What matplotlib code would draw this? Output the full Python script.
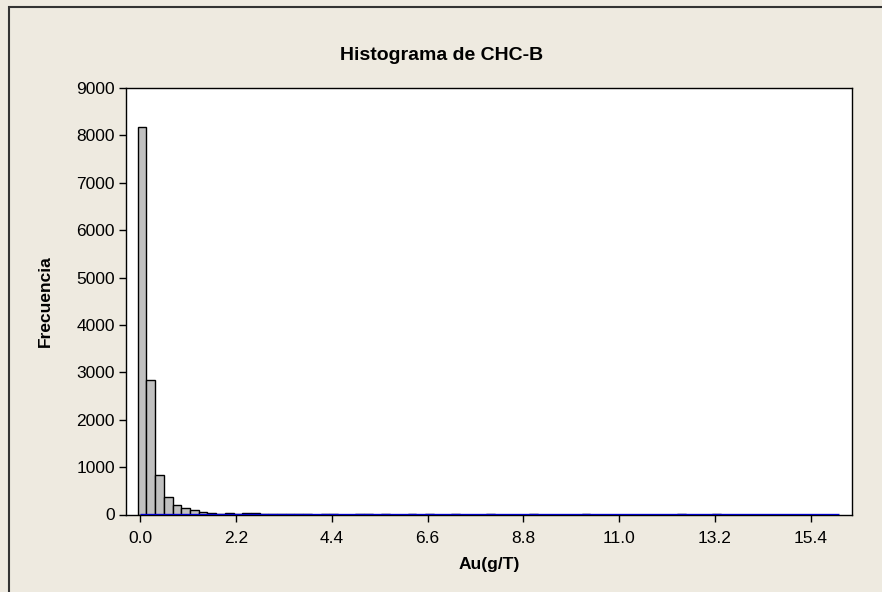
import matplotlib
matplotlib.use("Agg")
import matplotlib.pyplot as plt
from matplotlib.patches import Rectangle

# ---- data ----
bin_start = -0.06          # left edge of first bin (g/T)
bin_width = 0.2
counts = [8180, 2840, 840, 360, 205, 135, 92, 57, 30, 15, 28, 10, 28, 28,
          2, 1, 2, 1, 1, 1, 0, 1, 1, 0, 0, 1, 1, 0, 1, 0, 0, 1, 0, 1, 0, 0,
          1, 0, 0, 0, 1, 0, 0, 0, 0, 1, 0, 0, 0, 0, 0, 1, 0, 0, 0, 0, 0, 0,
          0, 0, 0, 0, 1, 0, 0, 0, 1]
data_min = 0.0
data_max = 16.05
xtick_values = [0.0, 2.2, 4.4, 6.6, 8.8, 11.0, 13.2, 15.4]
xtick_labels = ["0.0", "2.2", "4.4", "6.6", "8.8", "11.0", "13.2", "15.4"]
ytick_values = [0, 1000, 2000, 3000, 4000, 5000, 6000, 7000, 8000, 9000]

title = "Histograma de CHC-B"
xlabel = "Au(g/T)"
ylabel = "Frecuencia"

plt.rcParams['font.family'] = ['Liberation Sans', 'DejaVu Sans']

bg = "#EEEAE0"
fig = plt.figure(figsize=(8.82, 5.92), dpi=100, facecolor=bg)
ax = fig.add_axes([126/882, 1 - 514.5/592, (852 - 126)/882, (514.5 - 88)/592])
ax.set_facecolor("white")

lefts = [bin_start + i * bin_width for i in range(len(counts))]
ax.bar(lefts, counts, width=bin_width, align='edge', color="#C0C0C0",
       edgecolor="black", linewidth=1.0, zorder=2)
ax.plot([data_min, data_max], [0, 0], color="#0000CC", linewidth=2.4, zorder=3,
        solid_capstyle='butt')

ax.set_xlim(-0.33, 16.35)
ax.set_ylim(0, 9000)
ax.set_xticks(xtick_values)
ax.set_xticklabels(xtick_labels)
ax.set_yticks(ytick_values)
ax.tick_params(axis='both', direction='out', length=5, width=1, colors='black',
               labelsize=12.5)
ax.tick_params(axis='x', pad=7)
ax.tick_params(axis='y', pad=3)
for s in ax.spines.values():
    s.set_linewidth(1.0)
    s.set_color("black")

ax.set_xlabel(xlabel, fontsize=12.5, fontweight='bold', labelpad=8)
ax.set_ylabel(ylabel, fontsize=12.5, fontweight='bold', labelpad=17)
fig.text(442/882, 1 - 55/592, title, ha='center', va='center', fontsize=14,
         fontweight='bold')

# outer frame
fig.patches.append(Rectangle((9/882, -0.1), 1.2, 1 - 7/592 + 0.1,
                             transform=fig.transFigure, fill=False,
                             edgecolor="#333333", linewidth=1.5))

fig.savefig("out.png", dpi=100, facecolor=bg)
